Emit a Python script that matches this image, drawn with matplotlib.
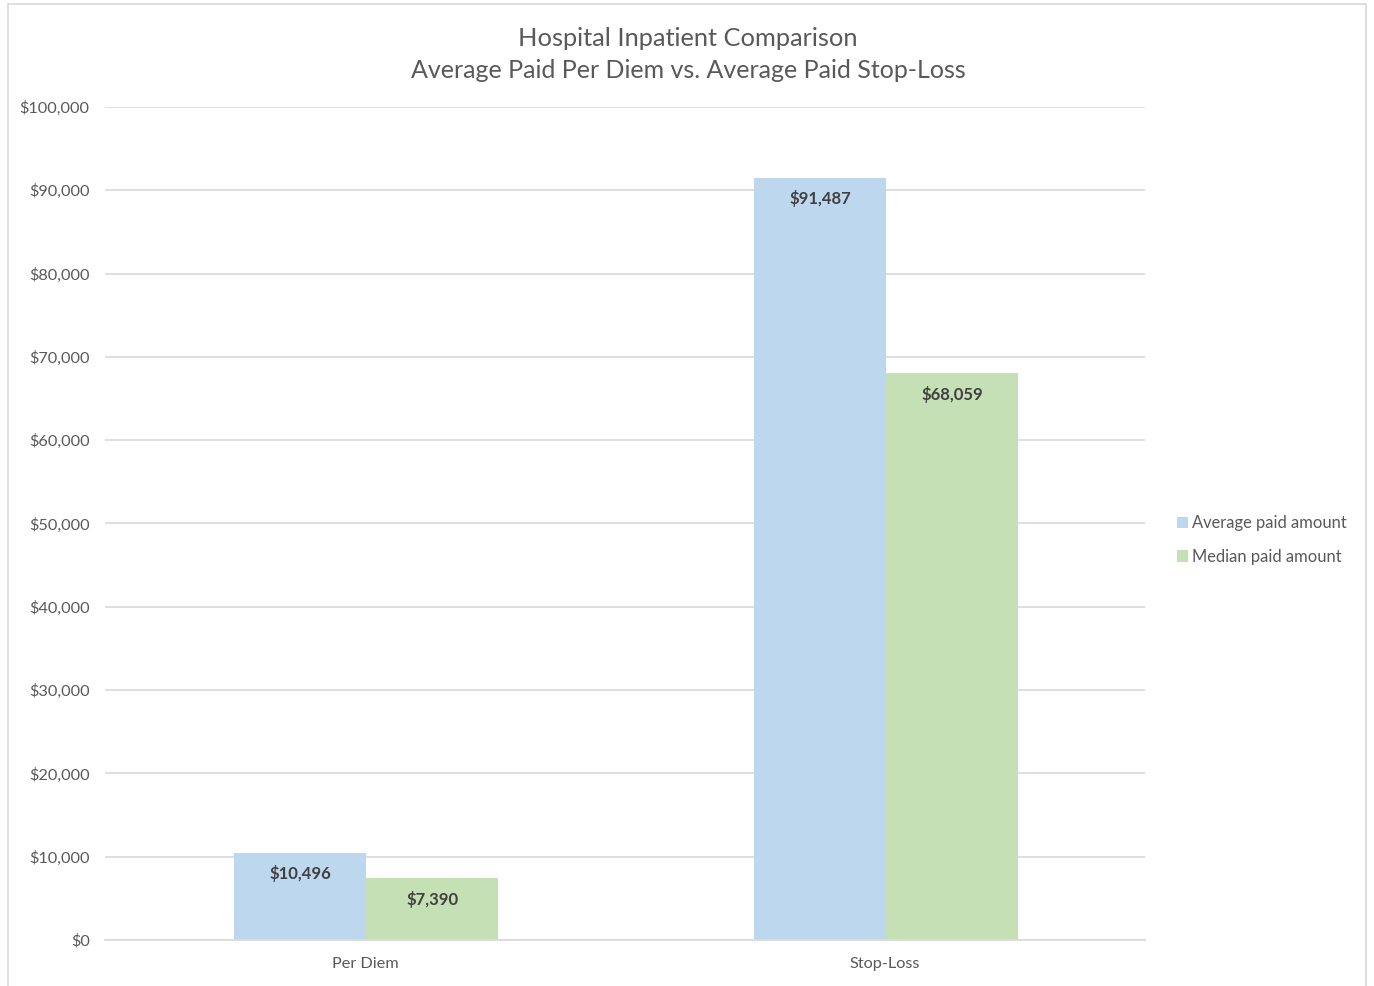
import matplotlib.pyplot as plt
from matplotlib.patches import Rectangle
import numpy as np

categories = ["Per Diem", "Stop-Loss"]
average_paid = [10496, 91487]
median_paid = [7390, 68059]
series_names = ["Average paid amount", "Median paid amount"]
yticks = [0, 10000, 20000, 30000, 40000, 50000, 60000, 70000, 80000, 90000, 100000]

plt.rcParams['font.family'] = ['Lato', 'DejaVu Sans']

W, H = 1374, 986
fig = plt.figure(figsize=(W / 100, H / 100), dpi=100)
fig.patches.append(Rectangle((8 / W, -0.01), (1366 - 8) / W, 1 - 4 / H + 0.01,
                             transform=fig.transFigure, fill=False,
                             edgecolor='#d9d9d9', linewidth=1.2))

ax = fig.add_axes([105 / W, (H - 940) / H, 1040 / W, 833 / H])

x = np.arange(len(categories))
bw = 0.254
b1 = ax.bar(x - bw / 2 + 0.002, average_paid, bw, color='#bdd7ee', label=series_names[0], zorder=2)
b2 = ax.bar(x + bw / 2 + 0.002, median_paid, bw, color='#c5e0b4', label=series_names[1], zorder=2)

for bars in (b1, b2):
    for rect in bars:
        v = rect.get_height()
        ax.annotate(f"${v:,.0f}", (rect.get_x() + rect.get_width() / 2, v),
                    xytext=(0, -9), textcoords='offset points', ha='center', va='top',
                    fontsize=12, fontweight='bold', color='#404040')

ax.set_xlim(-0.5, 1.5)
ax.set_ylim(0, 100000)
ax.set_yticks(yticks)
ax.set_yticklabels([f"${v:,}" for v in yticks])
ax.set_xticks(x)
ax.set_xticklabels(categories)
ax.yaxis.grid(True, color='#d9d9d9', linewidth=1.2, zorder=0)
ax.set_axisbelow(True)
for s in ax.spines.values():
    s.set_visible(False)
ax.spines['bottom'].set_visible(True)
ax.spines['bottom'].set_color('#d9d9d9')
ax.spines['bottom'].set_linewidth(1.2)
ax.tick_params(axis='both', length=0, labelsize=11.7, labelcolor='#595959')
ax.tick_params(axis='y', pad=11)
ax.tick_params(axis='x', pad=12)

fig.text(688 / W, 1 - 38 / H, "Hospital Inpatient Comparison", ha='center', va='center',
         fontsize=18.3, color='#595959')
fig.text(688 / W, 1 - 71 / H, "Average Paid Per Diem vs. Average Paid Stop-Loss", ha='center',
         va='center', fontsize=18, color='#595959')

fig.legend(handles=[b1, b2], loc='center left', bbox_to_anchor=(1162 / W, 1 - 540 / H),
           frameon=False, fontsize=11.9, labelcolor='#595959', handlelength=0.7,
           handleheight=0.7, handletextpad=0.2, labelspacing=1.05)

fig.savefig("out.png", dpi=100)
